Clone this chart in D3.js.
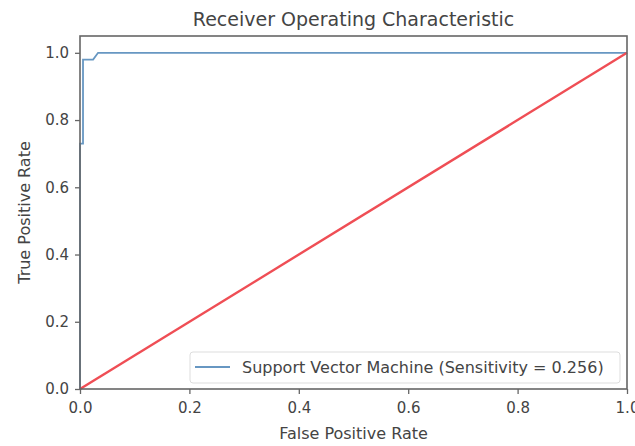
<!DOCTYPE html>
<html>
<head>
<meta charset="utf-8">
<script src="https://cdn.jsdelivr.net/npm/d3@7"></script>
<style>
  body { margin: 0; background: #fff; }
  text { font-family: "DejaVu Sans", sans-serif; fill: #444; }
</style>
</head>
<body>
<div id="chart"></div>
<script>
// roc curve points
var fpr = [0, 0, 0.0055, 0.0055, 0.024, 0.033, 1]
var tpr = [0, 0.73, 0.73, 0.98, 0.98, 1.0, 1.0]

// chance line
var chanceX = [0, 1]
var chanceY = [0, 1]

var xTicks = [0, 0.2, 0.4, 0.6, 0.8, 1.0]
var yTicks = [0, 0.2, 0.4, 0.6, 0.8, 1.0]

var legendLabel = 'Support Vector Machine (Sensitivity = 0.256)'

var width = 635, height = 446
var margin = { top: 36, right: 8, bottom: 57, left: 80 }
var plotW = width - margin.left - margin.right
var plotH = height - margin.top - margin.bottom

var svg = d3.select('#chart').append('svg')
    .attr('width', width)
    .attr('height', height)

var g = svg.append('g')
    .attr('transform', 'translate(' + margin.left + ',' + margin.top + ')')

var x = d3.scaleLinear().domain([0, 1]).range([0, plotW])
// top of frame sits a bit above 1.0
var y = d3.scaleLinear().domain([0, 1.05]).range([plotH, 0])

var line = d3.line()
    .x(function(d) { return x(d[0]) })
    .y(function(d) { return y(d[1]) })

// roc curve
g.append('path')
    .datum(d3.zip(fpr, tpr))
    .attr('d', line)
    .attr('fill', 'none')
    .attr('stroke', '#6797c2')
    .attr('stroke-width', 1.8)

// diagonal
g.append('path')
    .datum(d3.zip(chanceX, chanceY))
    .attr('d', line)
    .attr('fill', 'none')
    .attr('stroke', '#ef4e55')
    .attr('stroke-width', 2.4)

// axes
var xAxis = g.append('g')
    .attr('transform', 'translate(0,' + plotH + ')')
    .call(d3.axisBottom(x).tickValues(xTicks).tickFormat(d3.format('.1f')).tickSize(5).tickPadding(8))

var yAxis = g.append('g')
    .call(d3.axisLeft(y).tickValues(yTicks).tickFormat(d3.format('.1f')).tickSize(5).tickPadding(6))

;[xAxis, yAxis].forEach(function(a) {
    a.select('.domain').remove()
    a.selectAll('line').attr('stroke', '#666').attr('stroke-width', 1.3)
    a.selectAll('text').style('font-size', '15px').attr('fill', '#555')
})

// frame
g.append('rect')
    .attr('width', plotW)
    .attr('height', plotH)
    .attr('fill', 'none')
    .attr('stroke', '#666')
    .attr('stroke-width', 1.6)

// legend
var legend = g.append('g')
    .attr('transform', 'translate(' + (plotW - 437) + ',' + (plotH - 37) + ')')

legend.append('rect')
    .attr('width', 430)
    .attr('height', 31)
    .attr('rx', 3)
    .attr('fill', '#fff')
    .attr('fill-opacity', 0.85)
    .attr('stroke', '#ddd')

legend.append('line')
    .attr('x1', 5).attr('x2', 40)
    .attr('y1', 15).attr('y2', 15)
    .attr('stroke', '#6797c2')
    .attr('stroke-width', 1.8)

legend.append('text')
    .attr('x', 52)
    .attr('y', 15)
    .attr('dy', '0.35em')
    .style('font-size', '16px')
    .attr('fill', '#555')
    .text(legendLabel)

// titles
svg.append('text')
    .attr('x', margin.left + plotW / 2)
    .attr('y', 19)
    .attr('dy', '0.35em')
    .attr('text-anchor', 'middle')
    .style('font-size', '19px')
    .text('Receiver Operating Characteristic')

svg.append('text')
    .attr('x', margin.left + plotW / 2)
    .attr('y', 433)
    .attr('dy', '0.35em')
    .attr('text-anchor', 'middle')
    .style('font-size', '16px')
    .attr('fill', '#555')
    .text('False Positive Rate')

svg.append('text')
    .attr('transform', 'translate(24,' + (margin.top + plotH / 2) + ') rotate(-90)')
    .attr('dy', '0.35em')
    .attr('text-anchor', 'middle')
    .style('font-size', '16px')
    .attr('fill', '#555')
    .text('True Positive Rate')
</script>
</body>
</html>
